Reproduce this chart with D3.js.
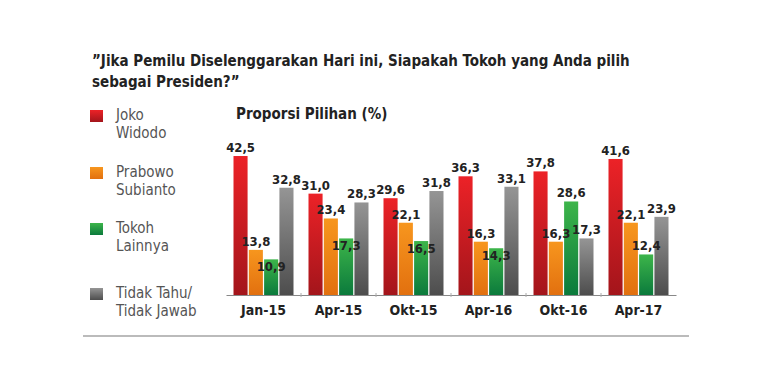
<!DOCTYPE html>
<html lang="id">
<meta charset="utf-8">
<title>Proporsi Pilihan</title>
<style>
  body { margin: 0; background: #fff; }
  svg text { font-family: "DejaVu Sans Condensed", "Liberation Sans Narrow", Roboto, sans-serif; }
</style>
<body>
<div id="chart"></div>
<script src="https://cdn.jsdelivr.net/npm/d3@7"></script>
<script>
// data
var periods = ["Jan-15", "Apr-15", "Okt-15", "Apr-16", "Okt-16", "Apr-17"];
var seriesNames = ["Joko Widodo", "Prabowo Subianto", "Tokoh Lainnya", "Tidak Tahu/ Tidak Jawab"];
var jokowi  = [42.5, 31.0, 29.6, 36.3, 37.8, 41.6];
var prabowo = [13.8, 23.4, 22.1, 16.3, 16.3, 22.1];
var lainnya = [10.9, 17.3, 16.5, 14.3, 28.6, 12.4];
var tidak   = [32.8, 28.3, 31.8, 33.1, 17.3, 23.9];
var legendLines = [["Joko", "Widodo"], ["Prabowo", "Subianto"], ["Tokoh", "Lainnya"], ["Tidak Tahu/", "Tidak Jawab"]];

var values = [jokowi, prabowo, lainnya, tidak];
// top and bottom colour of each bar gradient
var colours = [["#ec2227", "#a3151b"], ["#f7961e", "#e2700f"], ["#3db54a", "#0b7a3c"], ["#959595", "#4d4d4d"]];

var W = 780, H = 390;
var svg = d3.select("#chart").append("svg").attr("width", W).attr("height", H);

var defs = svg.append("defs");
colours.forEach(function (c, i) {
  var g = defs.append("linearGradient").attr("id", "g" + i)
    .attr("x1", 0).attr("y1", 0).attr("x2", 0).attr("y2", 1);
  g.append("stop").attr("offset", "0%").attr("stop-color", c[0]);
  g.append("stop").attr("offset", "100%").attr("stop-color", c[1]);
});

// title
var title = svg.append("text").attr("x", 92).attr("y", 66)
  .attr("font-size", 15).attr("font-weight", "bold").attr("fill", "#222");
title.append("tspan").attr("x", 92).text("\u201DJika Pemilu Diselenggarakan Hari ini,  Siapakah Tokoh yang Anda pilih");
title.append("tspan").attr("x", 92).attr("dy", 21).text("sebagai Presiden?\u201D");

// legend
var legendY = [110, 167, 223, 288];
legendLines.forEach(function (lines, i) {
  svg.append("rect").attr("x", 90).attr("y", legendY[i]).attr("width", 13).attr("height", 12)
    .attr("fill", "url(#g" + i + ")");
  var t = svg.append("text").attr("x", 116).attr("y", legendY[i] + 10)
    .attr("font-size", 15).attr("fill", "#555");
  lines.forEach(function (l, j) {
    t.append("tspan").attr("x", 116).attr("dy", j ? 18 : 0).text(l);
  });
});

svg.append("text").attr("x", 236).attr("y", 119)
  .attr("font-size", 15).attr("font-weight", "bold").attr("fill", "#222")
  .text("Proporsi Pilihan (%)");

// scales
var x0 = d3.scaleBand().domain(periods).range([226, 676]).paddingInner(0.2).paddingOuter(0.1);
var x1 = d3.scaleBand().domain(d3.range(4)).range([0, x0.bandwidth()]).paddingInner(0.08);
var y = d3.scaleLinear().domain([0, 50]).range([295, 131.5]);

// bars
var groups = svg.selectAll("g.period").data(periods).enter().append("g")
  .attr("class", "period")
  .attr("transform", function (d) { return "translate(" + x0(d) + ",0)"; });

groups.each(function (p, pi) {
  var g = d3.select(this);
  values.forEach(function (vals, si) {
    var v = vals[pi];
    g.append("rect").attr("x", x1(si)).attr("y", y(v))
      .attr("width", x1.bandwidth()).attr("height", y(0) - y(v))
      .attr("fill", "url(#g" + si + ")");
  });
});

// labels go on top of all bars; one that would run into the label
// before it is moved inside the top of its own bar
groups.each(function (p, pi) {
  var g = d3.select(this);
  var prevY = null;
  values.forEach(function (vals, si) {
    var v = vals[pi];
    var ly = y(v) - 4;
    if (prevY !== null && Math.abs(ly - prevY) < 20) ly = y(v) + 12;
    prevY = ly;
    g.append("text").attr("x", x1(si) + x1.bandwidth() / 2).attr("y", ly)
      .attr("text-anchor", "middle").attr("font-size", 13).attr("font-weight", "bold")
      .attr("fill", "#222").text(v.toFixed(1).replace(".", ","));
  });
});

// x axis
var axis = svg.append("g").attr("transform", "translate(0,295)")
  .call(d3.axisBottom(x0).tickSize(0).tickPadding(10));
axis.select(".domain").attr("stroke", "#888").attr("stroke-width", 1.2);
axis.selectAll("text").attr("font-size", 14).attr("font-weight", "bold").attr("fill", "#222")
  .attr("font-family", null);

// small ticks between groups
svg.selectAll("line.sep").data(periods.slice(1)).enter().append("line")
  .attr("class", "sep")
  .attr("x1", function (d) { return x0(d) - x0.step() * x0.paddingInner() / 2; })
  .attr("x2", function (d) { return x0(d) - x0.step() * x0.paddingInner() / 2; })
  .attr("y1", 293).attr("y2", 297).attr("stroke", "#aaa");

// bottom rule
svg.append("line").attr("x1", 83).attr("x2", 689).attr("y1", 336).attr("y2", 336)
  .attr("stroke", "#bbb").attr("stroke-width", 2);
</script>
</body>
</html>
